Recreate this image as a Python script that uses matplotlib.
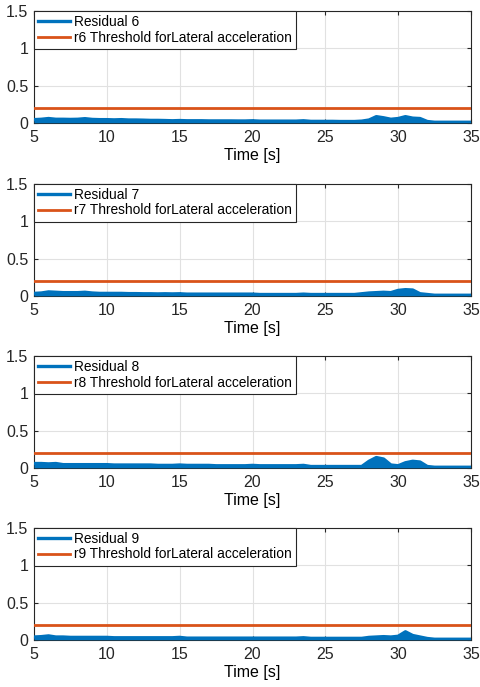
import numpy as np
import matplotlib
matplotlib.use("Agg")
import matplotlib.pyplot as plt

plt.rcParams['font.family'] = ['Liberation Sans', 'DejaVu Sans']

time_s = [5.0, 5.5, 6.0, 6.5, 7.0, 7.5, 8.0, 8.5, 9.0, 9.5,
          10.0, 10.5, 11.0, 11.5, 12.0, 12.5, 13.0, 13.5, 14.0, 14.5,
          15.0, 15.5, 16.0, 16.5, 17.0, 17.5, 18.0, 18.5, 19.0, 19.5,
          20.0, 20.5, 21.0, 21.5, 22.0, 22.5, 23.0, 23.5, 24.0, 24.5,
          25.0, 25.5, 26.0, 26.5, 27.0, 27.5, 28.0, 28.5, 29.0, 29.5,
          30.0, 30.5, 31.0, 31.5, 32.0, 32.5, 33.0, 33.5, 34.0, 34.5, 35.0]

residual_6 = [0.045, 0.05, 0.06, 0.05, 0.05, 0.048, 0.05, 0.058, 0.048, 0.045,
              0.045, 0.042, 0.045, 0.04, 0.04, 0.038, 0.035, 0.035, 0.033, 0.03,
              0.033, 0.03, 0.03, 0.03, 0.028, 0.028, 0.028, 0.028, 0.027, 0.027,
              0.03, 0.025, 0.025, 0.025, 0.025, 0.025, 0.025, 0.03, 0.022, 0.022,
              0.022, 0.022, 0.02, 0.02, 0.02, 0.025, 0.04, 0.085, 0.07, 0.05,
              0.06, 0.085, 0.065, 0.06, 0.02, 0.01, 0.01, 0.01, 0.01, 0.01, 0.01]

residual_7 = [0.035, 0.04, 0.055, 0.05, 0.045, 0.045, 0.045, 0.05, 0.04, 0.035,
              0.035, 0.035, 0.035, 0.032, 0.032, 0.03, 0.03, 0.028, 0.03, 0.028,
              0.03, 0.025, 0.025, 0.025, 0.025, 0.025, 0.025, 0.025, 0.025, 0.025,
              0.025, 0.02, 0.02, 0.02, 0.02, 0.02, 0.02, 0.025, 0.02, 0.02,
              0.02, 0.02, 0.02, 0.02, 0.02, 0.03, 0.04, 0.045, 0.05, 0.045,
              0.075, 0.085, 0.08, 0.03, 0.02, 0.01, 0.01, 0.01, 0.01, 0.01, 0.01]

residual_8 = [0.06, 0.06, 0.055, 0.06, 0.045, 0.045, 0.045, 0.045, 0.045, 0.045,
              0.045, 0.04, 0.04, 0.04, 0.04, 0.04, 0.04, 0.035, 0.035, 0.035,
              0.04, 0.035, 0.035, 0.035, 0.035, 0.03, 0.03, 0.03, 0.03, 0.03,
              0.035, 0.03, 0.03, 0.03, 0.03, 0.03, 0.03, 0.035, 0.02, 0.02,
              0.02, 0.02, 0.02, 0.02, 0.02, 0.02, 0.09, 0.14, 0.12, 0.04,
              0.03, 0.07, 0.09, 0.08, 0.02, 0.01, 0.01, 0.01, 0.01, 0.01, 0.01]

residual_9 = [0.04, 0.045, 0.055, 0.04, 0.04, 0.035, 0.035, 0.035, 0.035, 0.035,
              0.035, 0.03, 0.03, 0.03, 0.03, 0.03, 0.03, 0.03, 0.03, 0.03,
              0.035, 0.025, 0.025, 0.025, 0.025, 0.025, 0.025, 0.025, 0.025, 0.025,
              0.025, 0.025, 0.025, 0.025, 0.025, 0.025, 0.025, 0.03, 0.022, 0.022,
              0.022, 0.022, 0.022, 0.022, 0.022, 0.022, 0.035, 0.04, 0.045, 0.04,
              0.05, 0.11, 0.06, 0.04, 0.02, 0.01, 0.01, 0.01, 0.01, 0.01, 0.01]

residuals = [residual_6, residual_7, residual_8, residual_9]
residual_ids = ["6", "7", "8", "9"]
threshold = 0.2
x_ticks = [5, 10, 15, 20, 25, 30, 35]
y_ticks = [0, 0.5, 1, 1.5]
y_tick_labels = ["0", "0.5", "1", "1.5"]

blue = "#0072BD"
orange = "#D95319"

fig = plt.figure(figsize=(4.8, 6.87), dpi=100)
left = 34 / 480
width = (471 - 34) / 480
tops_px = [11, 184, 356, 528]
height_px = 112

for i, (vals, rid) in enumerate(zip(residuals, residual_ids)):
    top = tops_px[i]
    bottom = 1 - (top + height_px) / 687
    ax = fig.add_axes([left, bottom, width, height_px / 687])
    t = np.array(time_s)
    v = np.array(vals)
    ax.fill_between(t, 0.003, v, color=blue, linewidth=0, zorder=3)
    ax.plot(t, v, color=blue, lw=2.4, zorder=3, label="Residual " + rid)
    ax.plot([t[0], t[-1]], [threshold, threshold], color=orange, lw=2.0, zorder=3,
            label="r" + rid + " Threshold forLateral acceleration")
    ax.set_xlim(5, 35)
    ax.set_ylim(0, 1.5)
    ax.set_xticks(x_ticks)
    ax.set_yticks(y_ticks)
    ax.set_yticklabels(y_tick_labels)
    ax.tick_params(direction="in", length=3, labelsize=11.5, colors="#262626",
                   labelcolor="#262626", top=True, right=True, pad=4)
    ax.tick_params(axis="x", pad=5)
    ax.grid(True, color="#e1e1e1", lw=0.8, zorder=0)
    for s in ax.spines.values():
        s.set_color("#262626")
        s.set_linewidth(0.8)
    ax.set_xlabel("Time [s]", fontsize=11.5, labelpad=2, color="black")
    leg = ax.legend(loc="upper left", borderaxespad=0, fontsize=9.9,
                    fancybox=False, framealpha=1, edgecolor="#262626",
                    handlelength=2.3, handletextpad=0.3, borderpad=0.3,
                    labelspacing=0.1)
    leg.get_frame().set_linewidth(0.8)
    leg.set_zorder(5)

fig.savefig("out.png", dpi=100)
